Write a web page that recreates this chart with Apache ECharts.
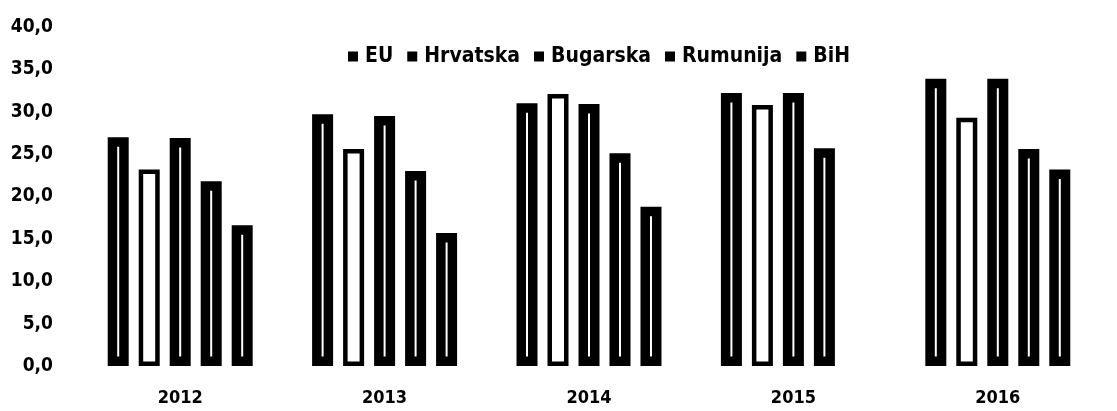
<!DOCTYPE html>
<html>
<head>
<meta charset="utf-8">
<style>
  html, body { margin: 0; padding: 0; background: #fff; }
  #chart { width: 1117px; height: 411px; }
</style>
<script src="https://cdn.jsdelivr.net/npm/echarts@6/dist/echarts.min.js"></script>
</head>
<body>
<div id="chart"></div>
<script>
// ---- data ----
const categories = ['2012', '2013', '2014', '2015', '2016'];
const seriesNames = ['EU', 'Hrvatska', 'Bugarska', 'Rumunija', 'BiH'];
const euValues = [27.0, 29.7, 31.0, 32.2, 33.9];
const hrvatskaValues = [23.2, 25.6, 32.1, 30.8, 29.3];
const bugarskaValues = [26.9, 29.5, 30.9, 32.2, 33.9];
const rumunijaValues = [21.8, 23.0, 25.1, 25.7, 25.6];
const bihValues = [16.6, 15.7, 18.8, null, 23.2];
const yTicks = [0, 5, 10, 15, 20, 25, 30, 35, 40];

const allValues = [euValues, hrvatskaValues, bugarskaValues, rumunijaValues, bihValues];
const FONT = "'DejaVu Sans Condensed', 'DejaVu Sans', sans-serif";

const chart = echarts.init(document.getElementById('chart'), null, { renderer: 'canvas' });

const series = seriesNames.map((name, i) => ({
  name: name,
  type: 'bar',
  data: allValues[i],
  barWidth: 21,
  barGap: '47.6%',
  itemStyle: {
    color: '#ffffff',
    borderColor: '#000000',
    borderWidth: name === 'Hrvatska' ? 4.5 : 9.5
  },
  emphasis: { disabled: true }
}));

chart.setOption({
  animation: false,
  backgroundColor: '#ffffff',
  legend: {
    left: 343,
    top: 41,
    icon: 'rect',
    itemWidth: 10,
    itemHeight: 10,
    itemGap: 14,
    textStyle: { fontFamily: FONT, fontWeight: 'bold', fontSize: 21, color: '#000', padding: [0, 0, 0, 2] },
    data: seriesNames.map(n => ({ name: n, itemStyle: { color: '#000', borderWidth: 0 } }))
  },
  grid: { left: 78, right: 17, top: 27, bottom: 45, containLabel: false },
  xAxis: {
    type: 'category',
    data: categories,
    axisLine: { show: false },
    axisTick: { show: false },
    axisLabel: { fontFamily: FONT, fontWeight: 'bold', fontSize: 18, color: '#000', margin: 23 }
  },
  yAxis: {
    type: 'value',
    min: yTicks[0],
    max: yTicks[yTicks.length - 1],
    interval: 5,
    splitLine: { show: false },
    axisLine: { show: false },
    axisTick: { show: false },
    axisLabel: {
      fontFamily: FONT, fontWeight: 'bold', fontSize: 19, color: '#000', margin: 25,
      formatter: v => v.toFixed(1).replace('.', ',')
    }
  },
  series: series
});
</script>
</body>
</html>
